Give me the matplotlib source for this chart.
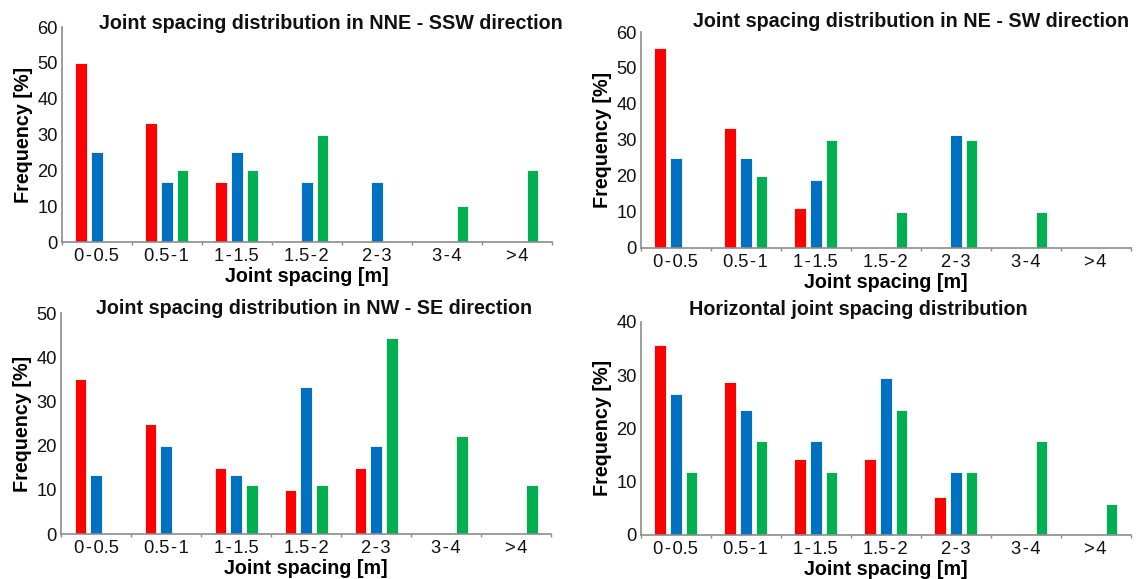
import matplotlib
matplotlib.use("Agg")
import matplotlib.pyplot as plt
import numpy as np

# joint spacing classes (hair spaces around the dash, as in the figure)
classes = ["0\u200a-\u200a0.5", "0.5\u200a-\u200a1", "1\u200a-\u200a1.5", "1.5\u200a-\u200a2",
           "2\u200a-\u200a3", "3\u200a-\u200a4", ">\u200a4"]

# NNE - SSW
nne_red = [50.0, 33.3, 16.7, 0, 0, 0, 0]
nne_blue = [25.0, 16.7, 25.0, 16.7, 16.7, 0, 0]
nne_green = [0, 20.0, 20.0, 30.0, 0, 10.0, 20.0]

# NE - SW
ne_red = [55.6, 33.3, 11.1, 0, 0, 0, 0]
ne_blue = [25.0, 25.0, 18.75, 0, 31.25, 0, 0]
ne_green = [0, 20.0, 30.0, 10.0, 30.0, 10.0, 0]

# NW - SE
nw_red = [35.0, 25.0, 15.0, 10.0, 15.0, 0, 0]
nw_blue = [13.3, 20.0, 13.3, 33.3, 20.0, 0, 0]
nw_green = [0, 0, 11.1, 11.1, 44.4, 22.2, 11.1]

# horizontal
hor_red = [35.7, 28.6, 14.3, 14.3, 7.1, 0, 0]
hor_blue = [26.5, 23.5, 17.6, 29.4, 11.8, 0, 0]
hor_green = [11.8, 17.6, 11.8, 23.5, 11.8, 17.6, 5.9]

RED = "#FF0000"
BLUE = "#0070C0"
GREEN = "#00B050"
AXC = "#8C8C8C"
FONT = ["Liberation Sans", "DejaVu Sans"]


def draw_panel(ax, red, blue, green, ymax, title, tx, ty, ha="center"):
    x = np.arange(len(classes))
    w = 0.167
    step = 0.224
    for off, vals, col in [(-step, red, RED), (0, blue, BLUE), (step, green, GREEN)]:
        ax.bar(x + off, vals, width=w, color=col, edgecolor="white", linewidth=0.6)
    ax.set_xlim(-0.5, len(classes) - 0.5)
    ax.set_ylim(0, ymax)
    ax.set_yticks(np.arange(0, ymax + 1, 10))
    ax.set_xticks(x)
    ax.set_xticklabels(classes)
    ax.set_xticks(np.arange(-0.5, len(classes), 1.0), minor=True)
    ax.tick_params(axis="x", which="major", length=0, pad=4.5)
    ax.tick_params(axis="x", which="minor", length=2.5, color=AXC, width=1)
    ax.tick_params(axis="y", length=0, pad=3)
    for lab in ax.get_xticklabels() + ax.get_yticklabels():
        lab.set_family(FONT)
        lab.set_fontsize(13.2)
        lab.set_color("#111111")
    for s in ["top", "right"]:
        ax.spines[s].set_visible(False)
    for s in ["left", "bottom"]:
        ax.spines[s].set_color(AXC)
        ax.spines[s].set_linewidth(1.2)
    ax.set_xlabel("Joint spacing [m]", family=FONT, fontweight="bold",
                  fontsize=14.2, labelpad=1.5)
    ax.set_ylabel("Frequency [%]", family=FONT, fontweight="bold",
                  fontsize=14.2, labelpad=3)
    ax.text(tx, ty, title, transform=ax.transAxes, ha=ha, va="center",
            family=FONT, fontweight="bold", fontsize=14.2, color="#111111",
            clip_on=False)


fig = plt.figure(figsize=(11.39, 5.79), dpi=100)

ax1 = fig.add_axes([0.0542, 0.5820, 0.4302, 0.3713])
draw_panel(ax1, nne_red, nne_blue, nne_green, 60,
           "Joint spacing distribution in NNE - SSW direction", 0.5496, 1.017)

ax2 = fig.add_axes([0.5625, 0.5722, 0.4302, 0.3725])
draw_panel(ax2, ne_red, ne_blue, ne_green, 60,
           "Joint spacing distribution in NE - SW direction", 0.1067, 1.048, ha="left")

ax3 = fig.add_axes([0.0536, 0.0777, 0.4302, 0.3817])
draw_panel(ax3, nw_red, nw_blue, nw_green, 50,
           "Joint spacing distribution in NW - SE direction", 0.516, 1.0226)

ax4 = fig.add_axes([0.5625, 0.0760, 0.4302, 0.3684])
draw_panel(ax4, hor_red, hor_blue, hor_green, 40,
           "Horizontal joint spacing distribution", 0.4435, 1.055)

fig.savefig("out.png", dpi=100)
